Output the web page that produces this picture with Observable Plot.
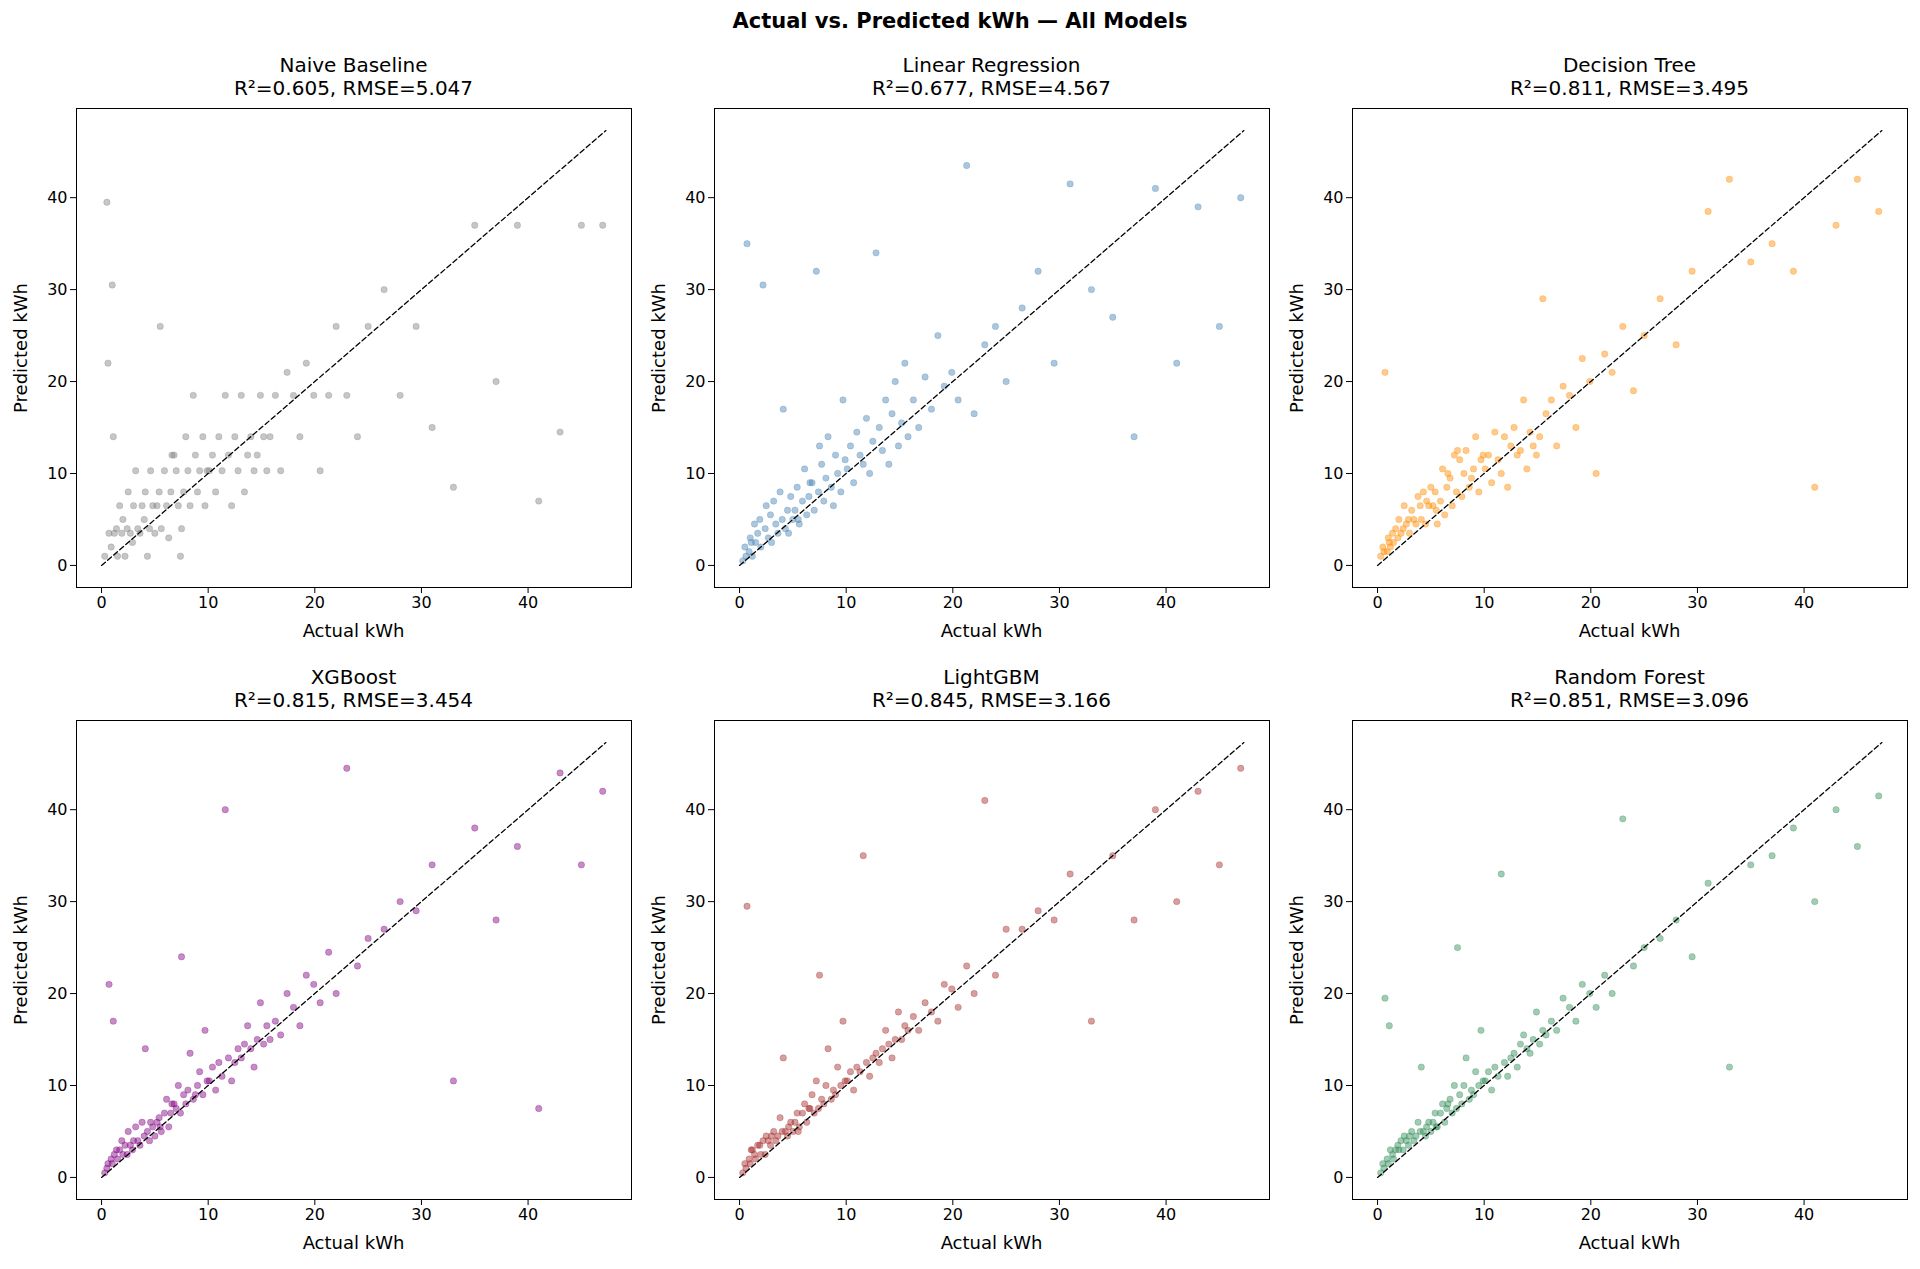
<!DOCTYPE html>
<html><head><meta charset="utf-8">
<script src="https://cdn.jsdelivr.net/npm/d3@7"></script>
<script src="https://cdn.jsdelivr.net/npm/@observablehq/plot@0.6"></script>
<style>
body{margin:0;background:#fff;font-family:"DejaVu Sans",sans-serif;}
#root{position:relative;width:1920px;height:1269px;}
.t{position:absolute;text-align:center;font-size:20px;line-height:23px;color:#000;}
.main{position:absolute;left:0;width:1920px;top:9px;text-align:center;font-weight:bold;font-size:21px;}
.p{position:absolute;}
.xl{position:absolute;text-align:center;font-size:18px;color:#000;}
.yl{position:absolute;font-size:18px;color:#000;transform:translate(-50%,-50%) rotate(-90deg);white-space:nowrap;}
</style></head><body>
<div id="root"><div class="main">Actual vs. Predicted kWh — All Models</div></div>
<script>
const actual=[0.3,0.5,0.7,0.9,1.0,1.2,1.4,1.5,1.7,1.9,2.0,2.2,2.4,2.5,2.7,2.9,3.0,3.2,3.4,3.6,3.8,4.0,4.1,4.3,4.5,4.6,4.8,5.0,0.6,1.1,
5.2,5.4,5.6,5.9,6.1,6.3,6.5,6.8,7.0,7.2,7.4,7.7,7.9,8.1,8.3,8.6,8.8,9.0,9.2,9.5,9.7,9.9,5.5,6.6,7.5,
10.1,10.4,10.7,11.0,11.3,11.6,11.9,12.2,12.5,12.8,13.1,13.4,13.7,14.0,14.3,14.6,14.9,15.2,15.5,15.8,
16.3,16.8,17.4,18.0,18.6,19.2,19.9,20.5,21.3,22.0,23.0,24.0,25.0,
26.5,28.0,29.5,31.0,33.0,35.0,37.0,39.0,41.0,43.0,45.0,47.0];
const naive=[1.0,39.5,3.5,2.0,30.5,3.5,4.0,1.0,6.5,3.5,5.0,1.0,4.0,8.0,3.5,2.5,6.5,10.3,4.0,3.5,6.5,5.0,8.0,1.0,4.0,10.3,6.5,3.5,22.0,14.0,
6.5,8.0,4.0,10.3,6.5,3.0,8.0,12.0,10.3,6.5,1.0,8.0,14.0,10.3,6.5,18.5,12.0,8.0,10.3,14.0,6.5,10.3,26.0,12.0,4.0,
10.3,12.0,8.0,14.0,10.3,18.5,12.0,6.5,14.0,10.3,18.5,8.0,12.0,14.0,10.3,12.0,18.5,14.0,10.3,14.0,
18.5,10.3,21.0,18.5,14.0,22.0,18.5,10.3,18.5,26.0,18.5,14.0,26.0,
30.0,18.5,26.0,15.0,8.5,37.0,20.0,37.0,7.0,14.5,37.0,37.0];
const linear=[0.5,2.0,35.0,1.5,3.0,1.0,4.5,2.5,3.5,5.0,2.0,30.5,4.0,6.5,3.0,5.5,2.5,7.0,4.5,3.5,8.0,5.0,17.0,4.0,6.0,3.5,7.5,5.0,1.0,2.5,
6.0,8.5,4.5,7.0,10.5,5.5,7.5,9.0,6.0,32.0,8.0,11.0,7.0,9.5,14.0,8.5,6.5,12.0,10.0,8.0,18.0,11.5,5.0,9.0,13.0,
10.5,13.0,9.0,14.5,12.0,11.0,16.0,10.0,13.5,34.0,15.0,12.5,18.0,11.0,16.5,20.0,13.0,15.5,22.0,14.0,
18.0,15.0,20.5,17.0,25.0,19.5,21.0,18.0,43.5,16.5,24.0,26.0,20.0,
28.0,32.0,22.0,41.5,30.0,27.0,14.0,41.0,22.0,39.0,26.0,40.0];
const tree=[1.0,2.0,21.0,1.5,3.0,2.0,3.5,2.5,4.0,3.0,5.0,3.5,4.0,6.5,4.5,5.0,3.5,6.0,5.0,4.5,7.5,6.5,5.0,8.0,4.5,7.0,6.5,8.5,1.5,2.5,
6.5,8.0,4.5,7.0,10.5,5.5,8.5,9.5,6.5,12.0,8.0,11.5,7.5,10.0,12.5,8.5,9.5,10.5,14.0,8.0,11.5,12.0,6.0,10.0,12.5,
10.5,12.0,9.0,14.5,11.5,10.0,14.0,8.5,13.0,15.0,12.0,12.5,18.0,10.5,14.5,13.0,12.0,14.0,29.0,16.5,
18.0,13.0,19.5,18.5,15.0,22.5,20.0,10.0,23.0,21.0,26.0,19.0,25.0,
29.0,24.0,32.0,38.5,42.0,33.0,35.0,32.0,8.5,37.0,42.0,38.5];
const xgb=[0.5,1.0,21.0,2.0,1.5,2.5,3.0,2.0,3.0,4.0,2.5,3.5,2.5,5.0,3.5,3.0,4.0,5.5,4.0,3.5,6.0,4.5,14.0,5.0,4.0,6.0,5.5,4.5,1.5,17.0,
6.0,6.5,5.0,7.0,8.5,5.5,7.0,8.0,7.5,10.0,7.0,9.0,8.0,9.5,13.5,8.5,9.0,10.0,11.5,9.0,16.0,10.5,5.5,8.0,24.0,
10.5,12.0,9.5,12.5,11.0,40.0,13.0,10.5,12.5,14.0,13.0,14.5,16.5,14.0,12.0,15.0,19.0,14.5,16.5,15.0,
17.0,15.5,20.0,18.5,16.5,22.0,21.0,19.0,24.5,20.0,44.5,23.0,26.0,
27.0,30.0,29.0,34.0,10.5,38.0,28.0,36.0,7.5,44.0,34.0,42.0];
const lgbm=[0.5,1.5,29.5,2.0,1.5,3.0,2.5,2.0,3.5,3.5,2.5,4.0,2.5,4.5,4.0,3.5,4.5,5.0,4.0,4.5,6.5,5.0,13.0,5.0,4.5,5.5,6.0,5.0,1.0,3.0,
6.0,7.0,5.5,7.0,8.0,6.0,7.5,9.0,7.0,10.5,7.5,8.5,8.0,10.0,14.0,8.5,9.5,9.0,12.0,10.0,17.0,10.5,5.0,7.5,22.0,
10.5,11.5,9.5,12.0,11.5,35.0,12.5,11.0,13.0,13.5,12.5,14.0,16.0,14.5,13.0,15.0,18.0,15.0,16.5,16.0,
17.5,16.0,19.0,18.0,17.0,21.0,20.5,18.5,23.0,20.0,41.0,22.0,27.0,
27.0,29.0,28.0,33.0,17.0,35.0,28.0,40.0,30.0,42.0,34.0,44.5];
const rf=[0.5,1.5,19.5,2.0,1.5,3.0,2.5,2.0,3.0,3.5,3.0,4.0,3.0,4.5,4.0,3.5,4.5,5.0,4.0,4.5,6.0,5.0,12.0,5.0,4.5,5.5,6.0,5.0,1.0,16.5,
6.0,7.0,5.5,7.0,8.0,6.0,7.5,8.5,7.0,10.0,7.5,9.0,8.0,10.0,13.0,8.5,9.5,9.0,11.5,10.0,16.0,10.5,5.5,8.0,25.0,
10.5,11.5,9.5,12.0,11.0,33.0,12.5,11.0,13.0,13.5,12.0,14.5,15.5,14.0,13.5,15.0,18.0,14.5,16.0,15.5,
17.0,16.0,19.5,18.5,17.0,21.0,20.0,18.5,22.0,20.0,39.0,23.0,25.0,
26.0,28.0,24.0,32.0,12.0,34.0,35.0,38.0,30.0,40.0,36.0,41.5];
const models=["Naive Baseline","Linear Regression","Decision Tree","XGBoost","LightGBM","Random Forest"];
const scores=["R²=0.605, RMSE=5.047","R²=0.677, RMSE=4.567","R²=0.811, RMSE=3.495","R²=0.815, RMSE=3.454","R²=0.845, RMSE=3.166","R²=0.851, RMSE=3.096"];
const colors=["#808080","#4682b4","#ff8c00","#800080","#a52a2a","#2e8b57"];
const preds=[naive,linear,tree,xgb,lgbm,rf];
const ticks=[0,10,20,30,40];
const diag=[0,47.3];
const root=document.getElementById("root");
const lefts=[76,714,1352], tops=[108,720];
const ML=70,MT=5,W=555,H=479;
models.forEach((m,i)=>{
  const col=i%3,row=Math.floor(i/3);
  const px=lefts[col],py=tops[row];
  const t=document.createElement("div");t.className="t";
  t.style.left=px+"px";t.style.width=W+"px";t.style.top=(py-54)+"px";
  t.innerHTML=m+"<br>"+scores[i];root.appendChild(t);
  const xl=document.createElement("div");xl.className="xl";
  xl.style.left=px+"px";xl.style.width=W+"px";xl.style.top=(py+H+33)+"px";
  xl.textContent="Actual kWh";root.appendChild(xl);
  const yl=document.createElement("div");yl.className="yl";
  yl.style.left=(px-56)+"px";yl.style.top=(py+H/2)+"px";
  yl.textContent="Predicted kWh";root.appendChild(yl);
  const n=Math.min(actual.length,preds[i].length);
  const data=d3.range(n).map(k=>({a:actual[k],p:preds[i][k]}));
  const svg=Plot.plot({
    width:W+ML+5,height:H+MT+60,marginLeft:ML,marginTop:MT,marginRight:5,marginBottom:60,
    style:{fontFamily:"DejaVu Sans",fontSize:"16px",color:"#000",background:"transparent"},
    x:{domain:[-2.35,49.7]},
    y:{domain:[-2.4,49.7]},
    marks:[
      Plot.axisX({ticks,tickFormat:d=>d,label:null,fontSize:16,tickSize:6}),
      Plot.axisY({ticks,tickFormat:d=>d,label:null,fontSize:16,tickSize:6}),
      Plot.dot(data,{x:"a",y:"p",r:3.2,fill:colors[i],fillOpacity:0.45,stroke:colors[i],strokeOpacity:0.45,strokeWidth:0.6}),
      Plot.line(diag.map(v=>({v})),{x:"v",y:"v",stroke:"#000",strokeWidth:1.3,strokeDasharray:"5,3"}),
      Plot.frame({stroke:"#000",strokeWidth:1})
    ]
  });
  svg.classList.add("p");svg.style.left=(px-ML)+"px";svg.style.top=(py-MT)+"px";
  root.appendChild(svg);
});
</script></body></html>
